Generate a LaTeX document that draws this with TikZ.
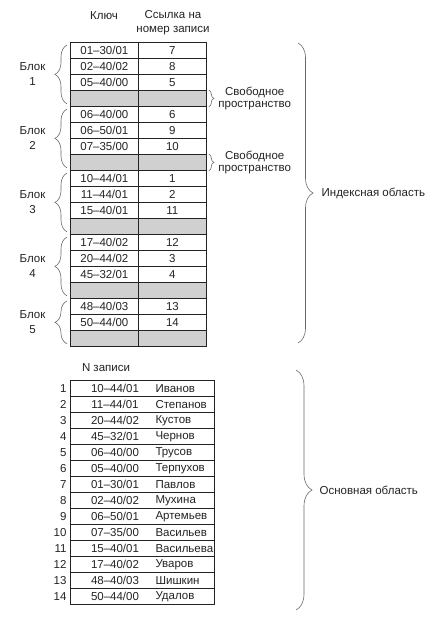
\documentclass[tikz,border=0pt]{standalone}
\usepackage{fontspec}
\setmainfont{Liberation Sans}
\usetikzlibrary{decorations.pathreplacing}

\definecolor{freegray}{RGB}{208,208,208}
\definecolor{inkgray}{RGB}{35,35,35}
\definecolor{bracegray}{RGB}{105,105,105}

\begin{document}
\begin{tikzpicture}[x=1pt,y=1pt,font=\fontsize{11.5}{13}\selectfont,text=inkgray,
    cell/.style={draw=inkgray,line width=0.8pt,minimum width=68pt,minimum height=16pt,inner sep=0pt,anchor=north west},
    freecell/.style={cell,fill=freegray},
    recrow/.style={draw=inkgray,line width=0.8pt,minimum width=144pt,minimum height=16pt,inner sep=0pt,anchor=north west},
    brc/.style={draw=bracegray,line width=0.6pt,decorate,decoration={brace,amplitude=#1}},
    brc/.default=6pt]
    \useasboundingbox (0,0) rectangle (431,-620);

    % index area: headers
    \node (hkey) at (104,-16) {Ключ};
    \node[align=center] (href) at (173,-23) {Ссылка на\\[1pt]номер записи};

    % index area: filled rows
    \foreach \i/\k/\n in {1/{01–30/01}/7, 2/{02–40/02}/8, 3/{05–40/00}/5,
        5/{06–40/00}/6, 6/{06–50/01}/9, 7/{07–35/00}/10,
        9/{10–44/01}/1, 10/{11–44/01}/2, 11/{15–40/01}/11,
        13/{17–40/02}/12, 14/{20–44/02}/3, 15/{45–32/01}/4,
        17/{48–40/03}/13, 18/{50–44/00}/14}{
        \node[cell] (k\i) at (70,{-42-16*(\i-1)}) {\k};
        \node[cell] (r\i) at (138,{-42-16*(\i-1)}) {\n};
    }
    % index area: free rows
    \foreach \i in {4,8,12,16,19}{
        \node[freecell] (k\i) at (70,{-42-16*(\i-1)}) {};
        \node[freecell] (r\i) at (138,{-42-16*(\i-1)}) {};
    }

    % blocks
    \foreach \b/\s/\e in {1/1/4, 2/5/8, 3/9/12, 4/13/16, 5/17/19}
        \draw[brc=12pt] ([shift={(-3,3)}]k\e.south west) -- ([shift={(-3,-3)}]k\s.north west)
            node[midway,left=18pt,align=center] (blk\b) {Блок\\[2pt]\b};

    % free space
    \draw[brc=5pt] ([xshift=2]r4.north east) -- ([xshift=2]r4.south east)
        node[midway,right=6pt,align=center] (free1) {Свободное\\[-1pt]пространство};
    \draw[brc=5pt] ([xshift=2]r8.north east) -- ([xshift=2]r8.south east)
        node[midway,right=6pt,align=center] (free2) {Свободное\\[-1pt]пространство};

    % index area brace
    \coordinate (itop) at (298,-43);
    \coordinate (ibot) at (298,-343);
    \draw[brc=15pt] (itop) -- (ibot) node[midway,right=20pt] (iarea) {Индексная область};

    % main area
    \node (hnum) at (106,-368) {N записи};
    \foreach \k/\f [count=\i] in {{10–44/01}/Иванов, {11–44/01}/Степанов, {20–44/02}/Кустов,
        {45–32/01}/Чернов, {06–40/00}/Трусов, {05–40/00}/Терпухов, {01–30/01}/Павлов,
        {02–40/02}/Мухина, {06–50/01}/Артемьев, {07–35/00}/Васильев, {15–40/01}/Васильева,
        {17–40/02}/Уваров, {48–40/03}/Шишкин, {50–44/00}/Удалов}{
        \node[recrow] (m\i) at (70,{-380-16*(\i-1)}) {};
        \node[anchor=east] (mi\i) at (m\i.west) {\i};
        \node (mk\i) at ([xshift=45]m\i.west) {\k};
        \node[anchor=west] (mn\i) at ([xshift=82]m\i.west) {\f};
    }

    % main area brace
    \coordinate (mtop) at (296,-370);
    \coordinate (mbot) at (296,-610);
    \draw[brc=16pt] (mtop) -- (mbot) node[midway,right=20pt] (marea) {Основная область};
\end{tikzpicture}
\end{document}
